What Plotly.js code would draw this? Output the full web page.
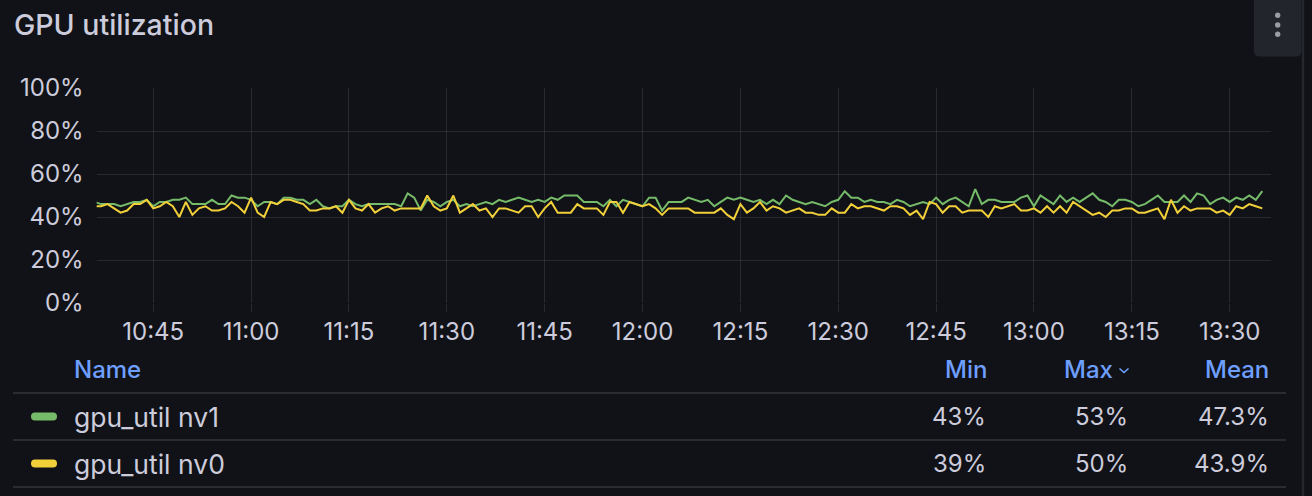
<!DOCTYPE html>
<html>
<head>
<meta charset="utf-8">
<script src="https://cdn.plot.ly/plotly-3.0.1.min.js"></script>
<style>
  html, body { margin: 0; padding: 0; background: #111217; }
  #chart { width: 1312px; height: 496px; }
</style>
</head>
<body>
<div id="chart"></div>
<script>
// ---------- DATA ----------
const chartTitle = 'GPU utilization';
const seriesNames = ['gpu_util nv1', 'gpu_util nv0'];
const seriesColors = ['#76bb69', '#f2d03a'];
const startTime = '10:36';          // first sample, one sample per minute
const dayPrefix = '2024-05-01';
const xRange = ['2024-05-01 10:36:20', '2024-05-01 13:36:20'];

const nv1 = [
  47,46,46,46,45,46,47,47,48,45,47,47,48,48,49,46,46,46,48,46,46,50,49,
  49,48,45,47,47,46,49,49,48,48,46,48,45,44,45,45,48,46,45,46,46,46,
  46,46,45,51,49,43,48,47,45,47,48,45,46,45,46,47,46,48,47,48,49,48,
  47,48,47,49,48,50,50,50,47,47,47,45,48,45,48,47,46,45,49,49,43,47,
  47,47,49,48,47,48,45,47,49,48,49,48,47,48,46,48,46,50,48,47,46,47,46,
  45,47,48,52,49,49,47,48,47,47,46,48,47,45,46,47,46,49,46,48,49,47,
  45,53,46,48,48,47,47,47,49,50,45,50,48,46,50,47,49,47,49,51,48,47,
  45,48,48,47,45,46,48,50,47,47,47,50,47,51,50,46,48,49,47,49,48,50,48,52
];
const nv0 = [
  45,45,46,44,42,43,46,46,48,44,45,47,45,40,47,41,44,45,43,43,44,47,45,
  42,49,42,40,47,46,48,48,47,46,43,43,44,44,45,42,48,44,43,46,42,44,
  45,43,44,44,44,44,50,45,43,44,50,42,44,46,43,44,40,44,44,43,42,45,
  45,40,44,47,42,42,42,46,44,44,44,41,47,47,42,47,46,45,46,44,41,44,
  44,44,44,42,42,42,42,44,41,39,46,42,44,47,43,45,44,42,43,44,42,42,41,
  41,44,42,42,46,44,45,45,44,43,45,45,44,41,43,39,47,46,42,45,45,42,
  43,43,43,40,45,44,45,46,43,43,44,42,45,42,45,42,47,45,43,41,42,40,
  43,43,44,44,42,42,43,44,39,48,42,45,43,44,44,44,42,43,41,45,44,46,45,44
];

const yTickVals = [0, 20, 40, 60, 80, 100];
const yTickText = ['0%', '20%', '40%', '60%', '80%', '100%'];
const tableHeaders = ['Name', 'Min', 'Max', 'Mean'];
const statMin = ['43%', '39%'];
const statMax = ['53%', '50%'];
const statMean = ['47.3%', '43.9%'];

// ---------- BUILD ----------
const W = 1312, H = 496;
const pad = n => String(n).padStart(2, '0');
const [sh, sm] = startTime.split(':').map(Number);
const times = nv1.map((_, k) => {
  const m = sh * 60 + sm + k;
  return `${dayPrefix} ${pad(Math.floor(m / 60))}:${pad(m % 60)}:00`;
});

const px = x => x / W;
const py = y => (H - y) / H;
const P = (x, y) => `${px(x)},${py(y)}`;

const FONT = 'Inter, "Noto Sans", sans-serif';
const TXT = '#ccccdc';
const BLUE = '#6e9fff';
const GRID = 'rgba(240,250,255,0.10)';

const traces = [nv1, nv0].map((vals, i) => ({
  type: 'scatter', mode: 'lines',
  x: times, y: vals, name: seriesNames[i],
  line: { color: seriesColors[i], width: 2 },
  hoverinfo: 'skip'
}));

const plotL = 96.7, plotR = 1271, plotT = 88, plotB = 303;

const annotations = [];
const ann = (text, x, y, xanchor, color, size, weight) => annotations.push({
  text, x: px(x), y: py(y), xref: 'paper', yref: 'paper',
  xanchor, yanchor: 'middle', showarrow: false, borderpad: 0,
  font: { family: FONT, size, color, weight: weight || 400 }
});

// table header
ann(tableHeaders[0], 73, 369, 'left', BLUE, 24, 500);
ann(tableHeaders[1], 988, 369, 'right', BLUE, 24, 500);
ann(tableHeaders[2], 1114, 369, 'right', BLUE, 24, 500);
ann(tableHeaders[3], 1270, 369, 'right', BLUE, 24, 500);
// rows
const rowY = [416.5, 463.5];
seriesNames.forEach((n, i) => {
  ann(n, 73, rowY[i], 'left', TXT, 26.5);
  ann(statMin[i], 987, rowY[i], 'right', TXT, 24);
  ann(statMax[i], 1129, rowY[i], 'right', TXT, 24);
  ann(statMean[i], 1270, rowY[i], 'right', TXT, 24);
});

const shapes = [];
// table separators
[393, 440, 487].forEach(y => shapes.push({
  type: 'line', xref: 'paper', yref: 'paper',
  x0: px(13), x1: px(1286), y0: py(y), y1: py(y),
  line: { color: '#2a2c32', width: 2 }
}));
// legend swatches (pills)
rowY.forEach((y, i) => {
  const x0 = 31, x1 = 57, h = 4;
  shapes.push({
    type: 'path', xref: 'paper', yref: 'paper',
    path: `M${P(x0 + h, y - h)} L${P(x1 - h, y - h)} Q${P(x1, y - h)} ${P(x1, y)} Q${P(x1, y + h)} ${P(x1 - h, y + h)} L${P(x0 + h, y + h)} Q${P(x0, y + h)} ${P(x0, y)} Q${P(x0, y - h)} ${P(x0 + h, y - h)} Z`,
    fillcolor: seriesColors[i], line: { width: 0 }
  });
});
// chevron by Max
shapes.push({
  type: 'path', xref: 'paper', yref: 'paper',
  path: `M${P(1119.5, 368.5)} L${P(1124, 372.5)} L${P(1128.5, 368.5)}`,
  line: { color: BLUE, width: 1.6 }
});
// menu button
shapes.push({
  type: 'path', xref: 'paper', yref: 'paper',
  path: `M${P(1254, -2)} L${P(1254, 51)} Q${P(1254, 56.5)} ${P(1259.5, 56.5)} L${P(1296, 56.5)} Q${P(1301.5, 56.5)} ${P(1301.5, 51)} L${P(1301.5, -2)} Z`,
  fillcolor: '#22252b', line: { width: 0 }
});
[15.3, 25, 34.3].forEach(y => shapes.push({
  type: 'circle', xref: 'paper', yref: 'paper',
  x0: px(1277.7 - 2.7), x1: px(1277.7 + 2.7), y0: py(y + 2.7), y1: py(y - 2.7),
  fillcolor: '#9a9ca4', line: { width: 0 }
}));
// right panel border
shapes.push({
  type: 'line', xref: 'paper', yref: 'paper',
  x0: px(1303), x1: px(1303), y0: 0, y1: 1,
  line: { color: '#25272d', width: 2.5 }
});

const layout = {
  width: W, height: H,
  margin: { l: 0, r: 0, t: 0, b: 0, pad: 0 },
  paper_bgcolor: '#111217', plot_bgcolor: '#111217',
  showlegend: false,
  title: {
    text: chartTitle, x: px(14), xanchor: 'left', xref: 'container',
    y: py(25), yanchor: 'middle', yref: 'container',
    font: { family: FONT, size: 28.5, color: TXT, weight: 500 }
  },
  xaxis: {
    type: 'date', domain: [px(plotL), px(plotR)], range: xRange,
    tickformat: '%H:%M', tick0: '2024-05-01 10:45:00', dtick: 15 * 60 * 1000,
    showgrid: true, gridcolor: GRID, gridwidth: 1,
    ticks: 'outside', ticklen: 8, tickcolor: GRID, tickwidth: 1,
    ticklabelstandoff: -1,
    showline: false, zeroline: false,
    tickfont: { family: FONT, size: 24, color: TXT },
    fixedrange: true
  },
  yaxis: {
    domain: [py(plotB), py(plotT)], range: [0, 100],
    tickmode: 'array', tickvals: yTickVals, ticktext: yTickText,
    showgrid: true, gridcolor: GRID, gridwidth: 1,
    ticks: '', showline: false, zeroline: false,
    ticklabelstandoff: 12,
    tickfont: { family: FONT, size: 24, color: TXT },
    fixedrange: true
  },
  annotations, shapes
};

Plotly.newPlot('chart', traces, layout, { displayModeBar: false, staticPlot: true });
</script>
</body>
</html>
